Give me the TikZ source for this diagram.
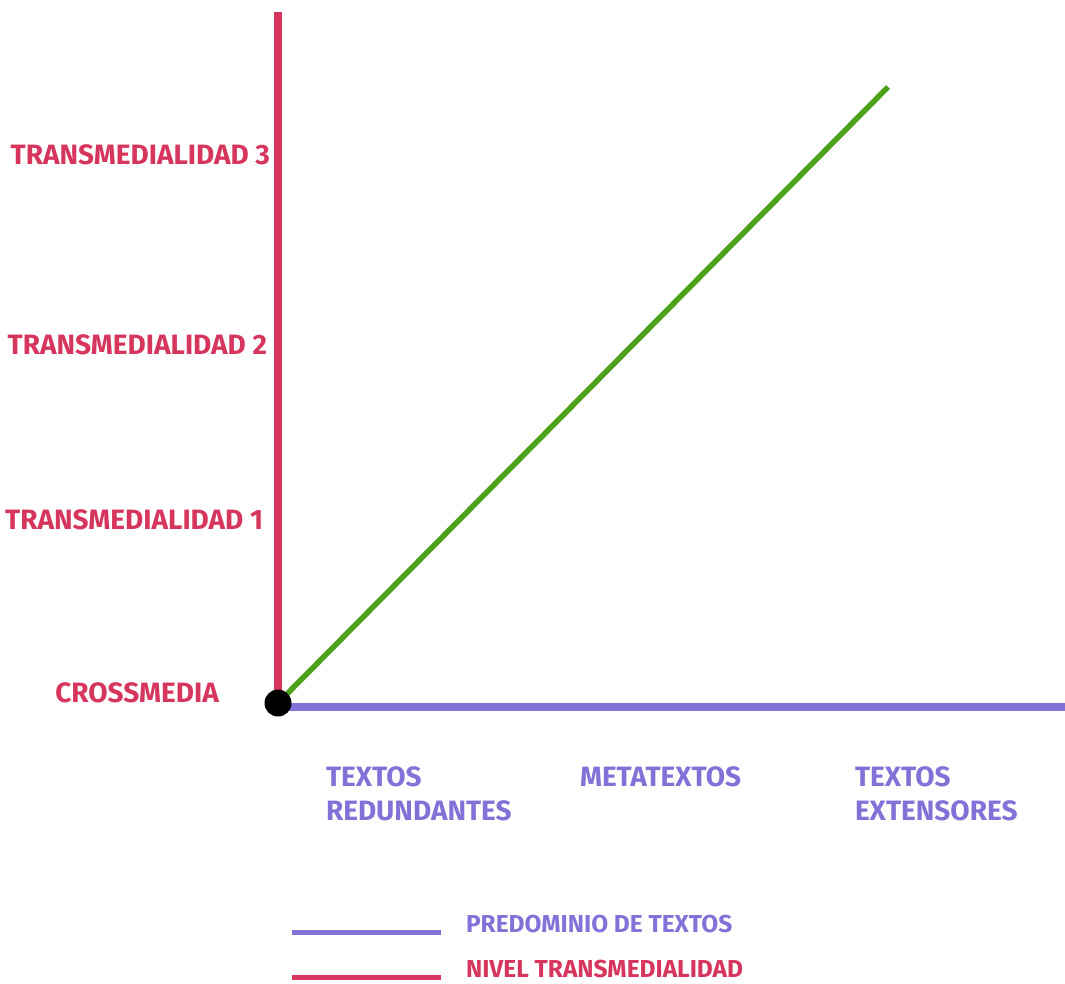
\documentclass[tikz,border=0pt]{standalone}
\usepackage{fontspec}
\setmainfont{Fira Sans}
\definecolor{nivelred}{HTML}{D6365E}
\definecolor{textpurple}{HTML}{8471D8}
\definecolor{linegreen}{HTML}{4EA11B}
\tikzset{
    nivel/.style={text=nivelred, font=\bfseries\fontsize{28}{30}\selectfont},
    textos/.style={text=textpurple, align=left, font=\bfseries\fontsize{28}{34}\selectfont},
    legendtext/.style={font=\bfseries\fontsize{24.5}{28}\selectfont},
    redaxis/.style={draw=nivelred, line width=8pt},
    purpleaxis/.style={draw=textpurple, line width=8pt},
}
\begin{document}
\begin{tikzpicture}[x=1pt, y=-1pt, inner sep=0pt, outer sep=0pt]
    \useasboundingbox (0,0) rectangle (1065,983);
    % axes
    \coordinate (origin) at (278,703);
    \coordinate (ytop) at (278,12);
    \coordinate (xstart) at (278,707);
    \coordinate (xend) at (1065,707);
    \coordinate (gend) at (888,87);
    \draw[redaxis] (origin) -- (ytop);
    \draw[purpleaxis] (xstart) -- (xend);
    \draw[draw=linegreen, line width=5.5pt] (origin) -- (gend);
    \node[circle, fill=black, minimum size=27pt] (dot) at (origin) {};

    % levels
    \node[nivel, anchor=east] (trans3) at (270,155) {TRANSMEDIALIDAD 3};
    \node[nivel, anchor=east] (trans2) at (267,345) {TRANSMEDIALIDAD 2};
    \node[nivel, anchor=east] (trans1) at (263,520) {TRANSMEDIALIDAD 1};
    \node[nivel] (cross) at (137,693) {CROSSMEDIA};

    % texts
    \node[textos, anchor=north west] (redund) at (326,767) {TEXTOS\\REDUNDANTES};
    \node[textos, anchor=north west] (meta) at (580,767) {METATEXTOS};
    \node[textos, anchor=north west] (exten) at (855,767) {TEXTOS\\EXTENSORES};

    % legend
    \coordinate (lpa) at (292,932);
    \coordinate (lpb) at (441,932);
    \coordinate (lra) at (292,977);
    \coordinate (lrb) at (441,977);
    \draw[draw=textpurple, line width=5pt] (lpa) -- (lpb);
    \draw[draw=nivelred, line width=5pt] (lra) -- (lrb);
    \node[legendtext, text=textpurple, anchor=west] (legpred) at (466,924) {PREDOMINIO DE TEXTOS};
    \node[legendtext, text=nivelred, anchor=west] (legnivel) at (466,969) {NIVEL TRANSMEDIALIDAD};
\end{tikzpicture}
\end{document}
